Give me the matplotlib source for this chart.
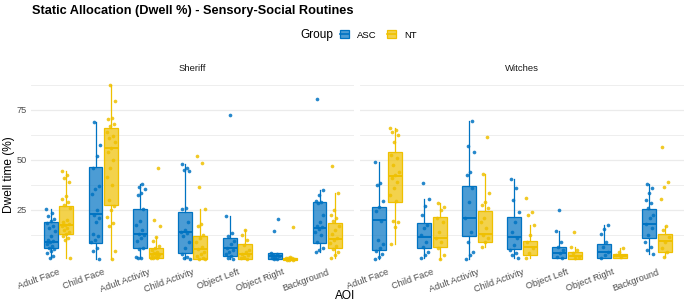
import numpy as np
import matplotlib
matplotlib.use("Agg")
import matplotlib.pyplot as plt
from matplotlib.patches import Patch
from matplotlib.lines import Line2D
from matplotlib.colors import to_rgba

plt.rcParams["font.family"] = ["Liberation Sans", "DejaVu Sans"]

aois = ["Adult Face", "Child Face", "Adult Activity", "Child Activity",
        "Object Left", "Object Right", "Background"]
panels = ["Sheriff", "Witches"]
groups = ["ASC", "NT"]
colors = {"ASC": "#0073C2", "NT": "#EFC000"}

# box stats per AOI: (q1, median, q3, whisker low, whisker high)
sheriff_asc_box = [(5.8, 9.2, 18.8, 1.2, 25.3), (8.7, 22.8, 46.3, 0.3, 68.8),
                   (6.2, 12.8, 25.3, 0.8, 37.8), (3.7, 13.8, 24.2, 0.3, 48.0),
                   (2.0, 5.8, 10.8, 0.3, 22.0), (0.3, 2.0, 3.3, 0.3, 3.5),
                   (8.7, 16.2, 28.8, 4.2, 35.0)]
sheriff_nt_box = [(12.8, 17.5, 27.0, 1.2, 44.5), (27.5, 55.8, 66.2, 0.3, 87.5),
                  (1.2, 2.8, 5.8, 0.8, 11.7), (0.3, 5.5, 12.0, 0.3, 25.5),
                  (0.3, 3.0, 7.8, 0.3, 15.0), (0.0, 0.5, 1.2, 0.0, 1.5),
                  (5.8, 10.5, 18.3, 0.8, 33.7)]
witches_asc_box = [(5.0, 19.8, 26.7, 0.7, 49.2), (6.2, 11.3, 18.3, 0.8, 30.3),
                   (12.0, 20.8, 37.2, 0.7, 69.5), (5.3, 11.3, 21.3, 0.8, 40.3),
                   (0.8, 3.7, 6.3, 0.8, 14.7), (1.0, 4.2, 7.8, 1.0, 17.5),
                   (10.8, 18.0, 25.5, 3.2, 38.0)]
witches_nt_box = [(29.2, 42.2, 53.8, 8.0, 65.8), (6.3, 11.2, 21.3, 0.3, 28.7),
                  (9.2, 12.8, 24.5, 6.7, 43.0), (2.5, 6.3, 9.7, 0.8, 17.5),
                  (0.5, 2.0, 4.2, 0.8, 6.7), (1.0, 2.0, 3.0, 1.7, 6.2),
                  (4.2, 9.5, 12.8, 1.7, 17.2)]

# individual dwell values (%)
sheriff_asc_pts = [
    [25.3, 23.5, 22, 20.5, 19.5, 18.5, 17, 16, 14.5, 12, 10, 9.5, 9, 8, 7, 6, 5.5, 4.5, 3.5, 2, 1.2],
    [68.8, 57.5, 52, 46, 37, 35.5, 33, 25, 22.5, 21, 19, 13, 12, 10, 9, 6, 4.5, 0.3],
    [37.8, 36.5, 35.5, 33.5, 32.5, 25.5, 19.5, 17.5, 15, 13, 12.5, 11, 9.5, 6, 5.5, 1.5, 1.2, 0.8],
    [48, 46, 45, 44.5, 26, 25.5, 19, 15, 14, 13.5, 12, 9, 6, 3, 1.5, 1, 0.3],
    [72.5, 22, 13.5, 12, 9.5, 8, 6, 5, 4, 3, 2, 1, 0.3],
    [20.5, 14.3, 3.5, 3, 2.5, 2, 1.5, 1, 0.5, 0.3],
    [80.7, 35, 32.5, 29.5, 29, 28.5, 22.5, 19, 17, 16.5, 15.5, 14, 12.5, 9, 6, 5, 4.2],
]
sheriff_nt_pts = [
    [44.5, 42.5, 41, 39, 32, 30.5, 29, 27.5, 26, 20, 19, 18, 17.5, 17, 16, 15, 14, 13, 12, 11, 10, 1.2],
    [87.5, 79.7, 71, 70.5, 68, 67, 64, 62, 61, 59, 56, 54, 50, 46, 41.5, 37.5, 30, 27, 25, 21.5, 18.5, 17, 4.7, 0.3],
    [45.8, 20, 17, 11.7, 9.5, 7, 6, 5, 4, 3.5, 3, 2.8, 2.5, 2, 1.5, 1.2, 1, 0.8],
    [52.2, 48.3, 36.3, 25.5, 17.8, 17, 12.5, 11, 9, 6.5, 5.5, 4, 3, 2, 1, 0.5, 0.3],
    [15, 12.5, 10, 7.5, 5, 4, 3, 2.5, 1.5, 0.8, 0.3],
    [16.3, 1.5, 1.2, 1, 0.8, 0.5, 0.3, 0.2, 0.1, 0],
    [46.8, 33.7, 25, 22.5, 21, 19.5, 17, 15, 13, 11, 10, 8.5, 7, 5.5, 4, 2.5, 0.8],
]
witches_asc_pts = [
    [49.2, 38.5, 37.5, 29.5, 26.5, 24.5, 19.5, 10, 8, 6, 4.5, 3, 1.5, 0.7],
    [38.7, 30.3, 27, 22.5, 17.5, 15.8, 12.5, 9.2, 6.7, 4.2, 2.5, 0.8],
    [69.5, 57, 54.2, 44.2, 42.5, 35.8, 29.2, 20.8, 14.2, 9.2, 4.2, 2.5, 0.7],
    [40.3, 35.8, 30, 24.2, 19.2, 14.2, 10.8, 7.5, 5, 3.3, 2.5, 0.8],
    [25, 14.7, 9.2, 6.7, 5, 3.3, 1.7, 0.8],
    [17.5, 15.3, 13, 9.2, 6.7, 4.2, 2.5, 1],
    [38, 35.8, 33.3, 30, 28.3, 25.8, 22.5, 20.8, 18, 15.8, 12.5, 9.2, 6.7, 5, 3.2],
]
witches_nt_pts = [
    [65.8, 65, 64, 62.5, 59.2, 52.5, 50.8, 47.5, 44.2, 42.5, 40.8, 39.2, 35.8, 32.5, 29.5, 19.7, 19, 16.7, 8],
    [28.7, 26.7, 25, 20.8, 19.2, 14.2, 10.8, 9.2, 5.8, 2.5, 0.3],
    [61.7, 43, 33.3, 29.2, 27.5, 25.8, 20.8, 19.2, 15.8, 12.5, 10.8, 9.2, 6.7],
    [31.2, 24.2, 22.5, 17.5, 12.5, 9.2, 5.8, 3.3, 0.8],
    [14.2, 6.7, 5, 3.3, 1.7, 0.8],
    [6.2, 4.2, 2.5, 1.7],
    [56.7, 39, 36.5, 30.3, 17.2, 15, 11.5, 9.2, 5.8, 4.2, 1.7],
]

boxes = {("Sheriff", "ASC"): sheriff_asc_box, ("Sheriff", "NT"): sheriff_nt_box,
         ("Witches", "ASC"): witches_asc_box, ("Witches", "NT"): witches_nt_box}
points = {("Sheriff", "ASC"): sheriff_asc_pts, ("Sheriff", "NT"): sheriff_nt_pts,
          ("Witches", "ASC"): witches_asc_pts, ("Witches", "NT"): witches_nt_pts}

W, H = 685, 305
fig = plt.figure(figsize=(W / 100, H / 100), dpi=100)

def px(x0, y0, x1, y1):
    return [x0 / W, 1 - y1 / H, (x1 - x0) / W, (y1 - y0) / H]

panel_px = {"Sheriff": (31.5, 78, 354, 262), "Witches": (360, 78, 684, 262)}
offset = {"ASC": -0.17, "NT": 0.17}
bw = 0.31
xs = np.arange(1, len(aois) + 1)

for p in panels:
    ax = fig.add_axes(px(*panel_px[p]))
    ax.set_xlim(0.4, 7.6)
    ax.set_ylim(-1, 91)
    ax.set_yticks([25, 50, 75])
    ax.set_yticks([12.5, 37.5, 62.5, 87.5], minor=True)
    ax.grid(True, which="major", axis="y", color="#EBEBEB", lw=0.9)
    ax.grid(True, which="minor", axis="y", color="#EBEBEB", lw=0.6)
    ax.set_axisbelow(True)
    for s in ax.spines.values():
        s.set_visible(False)
    ax.tick_params(which="both", length=0, colors="#4D4D4D", labelsize=6.6)
    ax.tick_params(axis="x", pad=4)
    ax.set_xticks(xs)
    ax.set_xticklabels(aois, rotation=20, ha="right", rotation_mode="anchor")
    if p == "Witches":
        ax.set_yticklabels([])
    ax.set_title(p, fontsize=6.8, color="#1A1A1A", pad=5)

    for g in groups:
        c = colors[g]
        stats = [dict(q1=b[0], med=b[1], q3=b[2], whislo=b[3], whishi=b[4], fliers=[])
                 for b in boxes[(p, g)]]
        ax.bxp(stats, positions=xs + offset[g], widths=bw, patch_artist=True,
               showfliers=False, showcaps=False, manage_ticks=False,
               boxprops=dict(facecolor=to_rgba(c, 0.7), edgecolor=c, lw=0.9),
               whiskerprops=dict(color=c, lw=0.9),
               medianprops=dict(color=c, lw=1.4))
        for i, vals in enumerate(points[(p, g)]):
            n = len(vals)
            jit = ((np.arange(n) * 0.618034 + i * 0.37) % 1 - 0.5) * 0.2
            ax.scatter(xs[i] + offset[g] + jit, vals, s=7, color=c, alpha=0.85,
                       lw=0, zorder=4)

fig.text(32 / W, 1 - 11 / H, "Static Allocation (Dwell %) - Sensory-Social Routines",
         fontsize=9.2, fontweight="bold", va="center", ha="left")
fig.text(345 / W, 1 - 296 / H, "AOI", fontsize=8.6, ha="center", va="center")
fig.text(9 / W, 1 - 175 / H, "Dwell time (%)", fontsize=8.6, ha="center", va="center",
         rotation=90)

fig.text(300 / W, 1 - 35 / H, "Group", fontsize=8.6, ha="left", va="center")
handles = [(Patch(facecolor=to_rgba(colors[g], 0.7), edgecolor=colors[g], lw=0.9),
            Line2D([], [], color=colors[g], lw=1.2)) for g in groups]
fig.legend(handles=handles, labels=groups, ncol=2, loc="center left",
           bbox_to_anchor=(340 / W, 1 - 35 / H),
           frameon=False, fontsize=6.8, handlelength=1.0, handleheight=0.9,
           handletextpad=0.8, columnspacing=1.1, borderpad=0, borderaxespad=0)

fig.savefig("out.png", dpi=100)
